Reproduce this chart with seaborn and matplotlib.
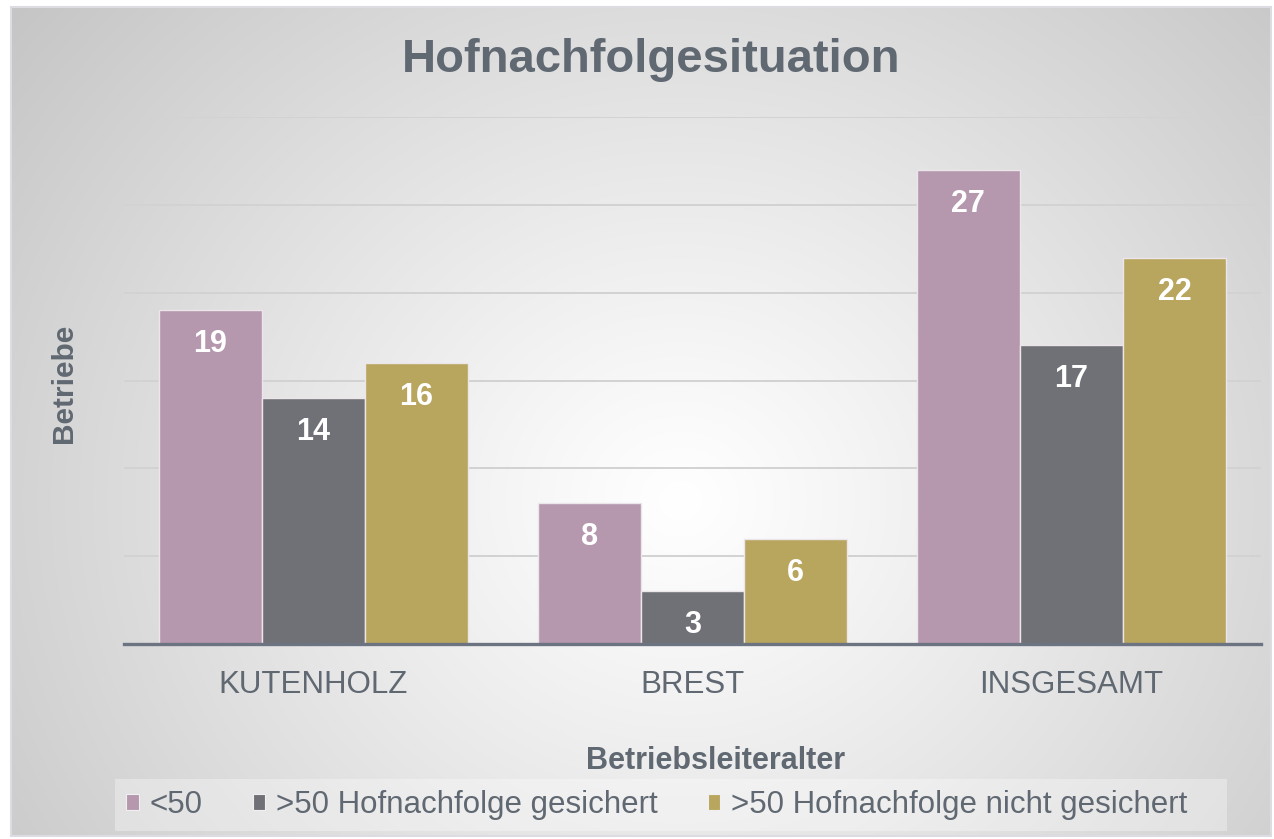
import numpy as np
import pandas as pd
import matplotlib
matplotlib.use("Agg")
import matplotlib.pyplot as plt
from matplotlib.patches import Patch, Rectangle
import seaborn as sns

# ---- data ----
categories = ["KUTENHOLZ", "BREST", "INSGESAMT"]
series = ["<50", ">50 Hofnachfolge gesichert", ">50 Hofnachfolge nicht gesichert"]
vals_unter50 = [19, 8, 27]
vals_gesichert = [14, 3, 17]
vals_nicht_gesichert = [16, 6, 22]
colors = ["#b597ae", "#707176", "#b8a55e"]

df = pd.DataFrame({
    "Ort": categories * 3,
    "Gruppe": [series[0]] * 3 + [series[1]] * 3 + [series[2]] * 3,
    "Betriebe": vals_unter50 + vals_gesichert + vals_nicht_gesichert,
})

sns.set_theme(style="white")
plt.rcParams["font.family"] = ["Liberation Sans", "DejaVu Sans"]
TXT = "#606872"

W, H = 1274, 839
fig = plt.figure(figsize=(W / 100, H / 100), dpi=100)

# ---- radial gradient background ----
bg = fig.add_axes([0, 0, 1, 1], zorder=-10)
yy, xx = np.mgrid[0:H, 0:W]
cx, cy = 680, 500
d = np.sqrt(((xx - cx) / 1.05) ** 2 + ((yy - cy) / 0.95) ** 2)
t = np.clip(d / 860.0, 0, 1)
g = 255 - t ** 1.1 * (255 - 194)
img = np.stack([g, g, g + 1], axis=-1) / 255.0
img = np.clip(img, 0, 1)
mask = (xx < 12) | (xx > 1270) | (yy < 8) | (yy > 835)
img[mask] = 1.0
bg.imshow(img, extent=[0, W, H, 0], aspect="auto", interpolation="bilinear")
bg.add_patch(Rectangle((11, 7), 1260, 829, fill=False, edgecolor="#dcdce2", linewidth=1.5))
# legend band
bg.add_patch(Rectangle((115, 779), 1112, 52, facecolor=(1, 1, 1, 0.32), edgecolor="none"))
bg.set_xlim(0, W)
bg.set_ylim(H, 0)
bg.axis("off")

# ---- main axes ----
ax = fig.add_axes([124 / W, 1 - 644 / H, (1261 - 124) / W, (644 - 117) / H])
ax.set_facecolor("none")

sns.barplot(data=df, x="Ort", y="Betriebe", hue="Gruppe", hue_order=series,
            order=categories, palette=colors, width=0.816, saturation=1,
            edgecolor="#ece6ea", linewidth=1.0, legend=False, ax=ax, zorder=3)

ax.set_ylim(0, 30)
ax.set_xlim(-0.5, 2.5)
ax.set_yticks([5, 10, 15, 20, 25, 30])
ax.yaxis.grid(True, color="#d2d2d2", linewidth=1.4, zorder=0)
ax.set_axisbelow(True)
ax.tick_params(axis="y", left=False, labelleft=False)
ax.tick_params(axis="x", bottom=False, labelsize=22.5, labelcolor=TXT, pad=13)
for s in ["top", "left", "right"]:
    ax.spines[s].set_visible(False)
ax.spines["bottom"].set_color("#6b7480")
ax.spines["bottom"].set_linewidth(2.4)
ax.spines["bottom"].set_zorder(5)
ax.set_xlabel("")
ax.set_ylabel("")

# value labels
for cont in ax.containers:
    for bar in cont:
        h = bar.get_height()
        ax.annotate(f"{int(round(h))}", xy=(bar.get_x() + bar.get_width() / 2, h),
                    xytext=(0, -24.5), textcoords="offset points", ha="center",
                    va="center", color="white", fontsize=22, fontweight="bold",
                    zorder=6)

# titles
fig.text(651 / W, 1 - 60 / H, "Hofnachfolgesituation", ha="center", va="center",
         fontsize=34, fontweight="bold", color=TXT)
fig.text(716 / W, 1 - 761 / H, "Betriebsleiteralter", ha="center", va="center",
         fontsize=22, fontweight="bold", color=TXT)
fig.text(64 / W, 1 - 383 / H, "Betriebe", ha="center", va="center", rotation=90,
         fontsize=21.5, fontweight="bold", color=TXT)

# legend
handles = [Patch(facecolor=c, edgecolor="#f0f0f0", linewidth=0.8) for c in colors]
leg = fig.legend(handles, series, loc="center", bbox_to_anchor=(657 / W, 1 - 805 / H),
                 ncol=3, frameon=False, fontsize=22.5, handlelength=0.4,
                 handleheight=0.4, handletextpad=0.35, columnspacing=1.6,
                 borderpad=0.3, labelcolor=TXT)

fig.savefig("out.png", dpi=100)
